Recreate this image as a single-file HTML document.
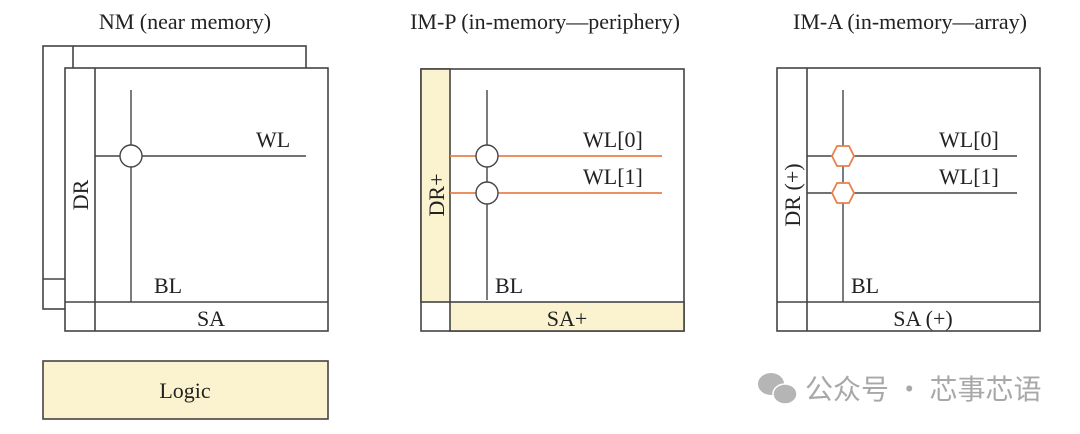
<!DOCTYPE html>
<html><head><meta charset="utf-8"><style>
html,body{margin:0;padding:0;background:#fff;}
svg{display:block;}
text{font-family:"Liberation Serif",serif;fill:#222;}
</style></head><body>
<svg width="1080" height="434" viewBox="0 0 1080 434" xmlns="http://www.w3.org/2000/svg">
<g stroke="#444" stroke-width="1.6" fill="none">
<rect x="43" y="46" width="263" height="263" fill="#fff"/>
<line x1="73" y1="46" x2="73" y2="279"/>
<line x1="43" y1="279" x2="65" y2="279"/>
<rect x="65" y="68" width="263" height="263" fill="#fff"/>
<line x1="95" y1="68" x2="95" y2="331"/>
<line x1="65" y1="302" x2="328" y2="302"/>
<line x1="131" y1="90" x2="131" y2="302" stroke-width="1.4"/>
<line x1="95" y1="156" x2="306" y2="156" stroke-width="1.4"/>
<circle cx="131" cy="156" r="11" fill="#fff" stroke-width="1.4"/>
<rect x="421" y="69" width="263" height="262" fill="#fff"/>
<rect x="421" y="69" width="29" height="233" fill="#fbf3cf"/>
<rect x="450" y="302" width="234" height="29" fill="#fbf3cf"/>
<line x1="487" y1="90" x2="487" y2="300" stroke-width="1.4"/>
<line x1="450" y1="156" x2="662" y2="156" stroke="#e8804a" stroke-width="1.8"/>
<line x1="450" y1="193" x2="662" y2="193" stroke="#e8804a" stroke-width="1.8"/>
<circle cx="487" cy="156" r="11" fill="#fff" stroke-width="1.4"/>
<circle cx="487" cy="193" r="11" fill="#fff" stroke-width="1.4"/>
<rect x="777" y="68" width="263" height="263" fill="#fff"/>
<line x1="807" y1="68" x2="807" y2="331"/>
<line x1="777" y1="302" x2="1040" y2="302"/>
<line x1="843" y1="90" x2="843" y2="302" stroke-width="1.4"/>
<line x1="807" y1="156" x2="1017" y2="156" stroke-width="1.4"/>
<line x1="807" y1="193" x2="1017" y2="193" stroke-width="1.4"/>
<polygon points="832,156 837,146 849,146 854,156 849,166 837,166" fill="#fff" stroke="#e8804a" stroke-width="1.8"/>
<polygon points="832,193 837,183 849,183 854,193 849,203 837,203" fill="#fff" stroke="#e8804a" stroke-width="1.8"/>
<rect x="43" y="361" width="285" height="58" fill="#fbf3cf"/>
</g>
<g font-size="22">
<text x="185" y="29" text-anchor="middle">NM (near memory)</text>
<text x="545" y="29" text-anchor="middle">IM-P (in-memory—periphery)</text>
<text x="910" y="29" text-anchor="middle">IM-A (in-memory—array)</text>
<text x="256" y="147">WL</text>
<text x="154" y="293">BL</text>
<text x="211" y="326" text-anchor="middle">SA</text>
<text transform="translate(88,195) rotate(-90)" text-anchor="middle">DR</text>
<text x="583" y="147">WL[0]</text>
<text x="583" y="184">WL[1]</text>
<text x="495" y="293">BL</text>
<text x="567" y="326" text-anchor="middle">SA+</text>
<text transform="translate(444,195) rotate(-90)" text-anchor="middle">DR+</text>
<text x="939" y="147">WL[0]</text>
<text x="939" y="184">WL[1]</text>
<text x="851" y="293">BL</text>
<text x="923" y="326" text-anchor="middle">SA (+)</text>
<text transform="translate(800,195) rotate(-90)" text-anchor="middle">DR (+)</text>
<text x="185" y="398" text-anchor="middle">Logic</text>
</g>
<g fill="#b5b5b5">
<ellipse cx="771" cy="384" rx="13" ry="11"/>
<ellipse cx="785" cy="394" rx="12" ry="10" stroke="#fff" stroke-width="1.5"/>
</g>
<text x="805" y="399" font-size="28" style="font-family:'Noto Sans CJK SC',sans-serif;fill:#a8a8a8">公众号 · 芯事芯语</text>
</svg>
</body></html>
